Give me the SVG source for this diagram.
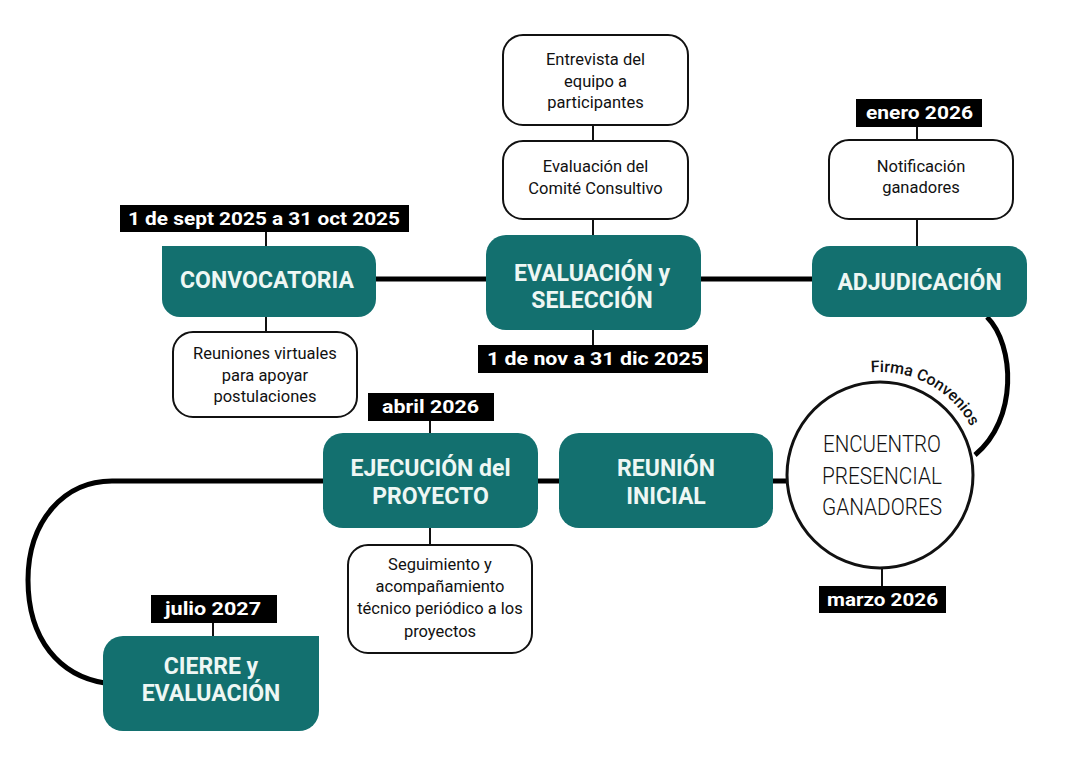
<svg xmlns="http://www.w3.org/2000/svg" width="1080" height="775" viewBox="0 0 1080 775">
<style>
.teal{fill:#13706f}
.tt{font-family:Roboto,"Liberation Sans",sans-serif;font-weight:700;font-size:23px;fill:#eef7f4;text-anchor:middle}
.wb{fill:#fff;stroke:#111;stroke-width:2}
.wt{font-family:Roboto,"Liberation Sans",sans-serif;font-weight:400;font-size:16.5px;fill:#111;text-anchor:middle}
.lb{fill:#000}
.lt{font-family:Roboto,"Liberation Sans",sans-serif;font-weight:700;font-size:19px;fill:#fff;text-anchor:middle}
.thick{fill:none;stroke:#000;stroke-width:5}
.thin{fill:none;stroke:#111;stroke-width:2}
.ct{font-family:Roboto,"Liberation Sans",sans-serif;font-weight:300;font-size:24px;fill:#111;text-anchor:middle}
</style>
<defs>
<path id="arcText" d="M 871 372.4 A 103 103 0 0 1 973.4 431.5"/>
</defs>
<rect width="1080" height="775" fill="#fff"/>
<g id="connectors">
<path class="thick" d="M376 279 H487"/>
<path class="thick" d="M701 279 H812"/>
<path class="thick" d="M987 317 C1015 345 1018 420 975 455"/>
<path class="thick" d="M773 481 H788"/>
<path class="thick" d="M538 481 H559"/>
<path class="thick" d="M323 481 H112 C65 481 28 520 28 580 C28 640 60 676 105 683"/>
<path class="thin" d="M266 232 V246"/>
<path class="thin" d="M266 317 V332"/>
<path class="thin" d="M593 125 V141"/>
<path class="thin" d="M593 219 V235"/>
<path class="thin" d="M593 330 V345"/>
<path class="thin" d="M917 127 V140"/>
<path class="thin" d="M917 219 V246"/>
<path class="thin" d="M882 568 V586"/>
<path class="thin" d="M430 421 V433"/>
<path class="thin" d="M430 528 V545"/>
<path class="thin" d="M213 623 V636"/>
</g>
<g id="convocatoria">
<path class="teal" d="M162 246 H358 A18 18 0 0 1 376 264 V299 A18 18 0 0 1 358 317 H180 A18 18 0 0 1 162 299 Z"/>
<text class="tt" x="267" y="288">CONVOCATORIA</text>
</g>
<g id="date-convocatoria">
<rect class="lb" x="120" y="205" width="289" height="27"/>
<text class="lt" x="264" y="225" textLength="272" lengthAdjust="spacingAndGlyphs">1 de sept 2025 a 31 oct 2025</text>
</g>
<g id="reuniones-virtuales">
<rect class="wb" x="173" y="332" width="184" height="85" rx="20"/>
<text class="wt" x="265" y="359">Reuniones virtuales</text>
<text class="wt" x="265" y="381">para apoyar</text>
<text class="wt" x="265" y="402">postulaciones</text>
</g>
<g id="entrevista">
<rect class="wb" x="503" y="35" width="185" height="90" rx="20"/>
<text class="wt" x="595.5" y="65">Entrevista del</text>
<text class="wt" x="595.5" y="87">equipo a</text>
<text class="wt" x="595.5" y="108">participantes</text>
</g>
<g id="comite">
<rect class="wb" x="503" y="141" width="185" height="78" rx="20"/>
<text class="wt" x="595.5" y="172">Evaluación del</text>
<text class="wt" x="595.5" y="194">Comité Consultivo</text>
</g>
<g id="evaluacion">
<rect class="teal" x="486" y="235" width="215" height="95" rx="20"/>
<text class="tt" x="592" y="281">EVALUACIÓN y</text>
<text class="tt" x="592" y="308">SELECCIÓN</text>
</g>
<g id="date-evaluacion">
<rect class="lb" x="478" y="345" width="230" height="28"/>
<text class="lt" x="595" y="365" textLength="216" lengthAdjust="spacingAndGlyphs">1 de nov a 31 dic 2025</text>
</g>
<g id="date-adjudicacion">
<rect class="lb" x="856" y="99" width="126" height="28"/>
<text class="lt" x="919.5" y="119" textLength="107" lengthAdjust="spacingAndGlyphs">enero 2026</text>
</g>
<g id="notificacion">
<rect class="wb" x="829" y="140" width="184" height="79" rx="20"/>
<text class="wt" x="921" y="172">Notificación</text>
<text class="wt" x="921" y="193">ganadores</text>
</g>
<g id="adjudicacion">
<rect class="teal" x="812" y="246" width="215" height="71" rx="18"/>
<text class="tt" x="919.5" y="290">ADJUDICACIÓN</text>
</g>
<g id="encuentro">
<circle cx="880" cy="475" r="93" fill="#fff" stroke="#111" stroke-width="3"/>
<text class="ct" x="882" y="452" textLength="118" lengthAdjust="spacingAndGlyphs">ENCUENTRO</text>
<text class="ct" x="882" y="484" textLength="120" lengthAdjust="spacingAndGlyphs">PRESENCIAL</text>
<text class="ct" x="882" y="515" textLength="120" lengthAdjust="spacingAndGlyphs">GANADORES</text>
</g>
<g id="firma-convenios">
<text font-family="Roboto,'Liberation Sans',sans-serif" font-weight="500" font-size="16" fill="#111"><textPath href="#arcText">Firma Convenios</textPath></text>
</g>
<g id="date-encuentro">
<rect class="lb" x="819" y="586" width="127" height="27"/>
<text class="lt" x="882.5" y="606" textLength="111" lengthAdjust="spacingAndGlyphs">marzo 2026</text>
</g>
<g id="reunion-inicial">
<rect class="teal" x="559" y="433" width="214" height="95" rx="20"/>
<text class="tt" x="666" y="476">REUNIÓN</text>
<text class="tt" x="666" y="504">INICIAL</text>
</g>
<g id="ejecucion">
<rect class="teal" x="323" y="433" width="215" height="95" rx="20"/>
<text class="tt" x="430.5" y="476">EJECUCIÓN del</text>
<text class="tt" x="430.5" y="504">PROYECTO</text>
</g>
<g id="date-ejecucion">
<rect class="lb" x="368" y="393" width="126" height="28"/>
<text class="lt" x="430.5" y="413" textLength="97" lengthAdjust="spacingAndGlyphs">abril 2026</text>
</g>
<g id="seguimiento">
<rect class="wb" x="348" y="545" width="184" height="108" rx="20"/>
<text class="wt" x="440" y="570">Seguimiento y</text>
<text class="wt" x="440" y="592">acompañamiento</text>
<text class="wt" x="440" y="614">técnico periódico a los</text>
<text class="wt" x="440" y="637">proyectos</text>
</g>
<g id="date-cierre">
<rect class="lb" x="151" y="595" width="126" height="28"/>
<text class="lt" x="213" y="615" textLength="96" lengthAdjust="spacingAndGlyphs">julio 2027</text>
</g>
<g id="cierre">
<path class="teal" d="M123 636 H319 V711 A20 20 0 0 1 299 731 H123 A20 20 0 0 1 103 711 V656 A20 20 0 0 1 123 636 Z"/>
<text class="tt" x="211" y="674">CIERRE y</text>
<text class="tt" x="211" y="701">EVALUACIÓN</text>
</g>
</svg>
